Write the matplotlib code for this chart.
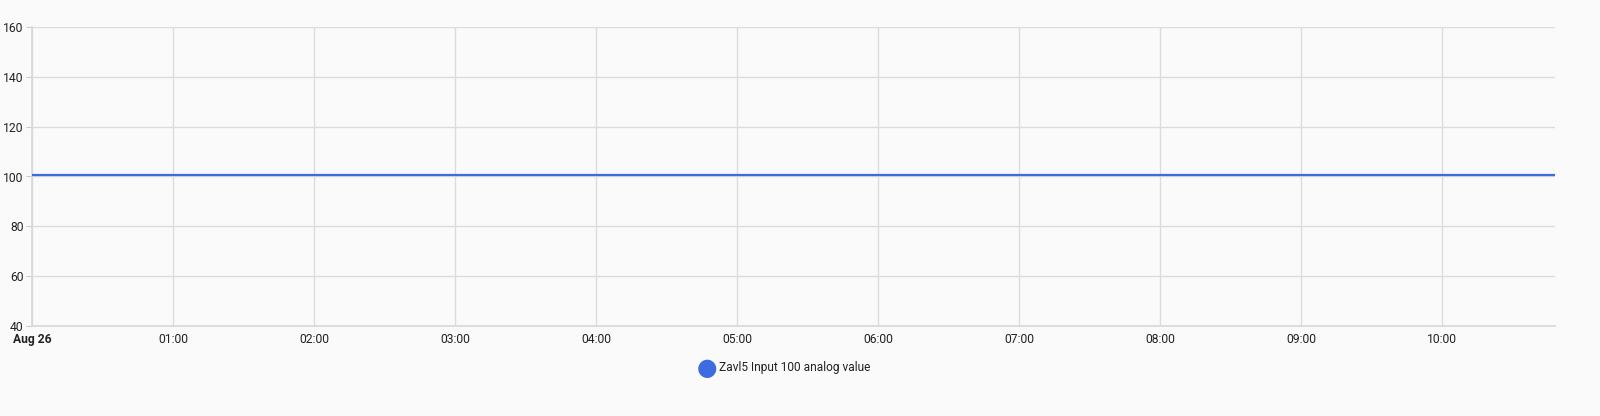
import matplotlib.pyplot as plt
import matplotlib.dates as mdates
import pandas as pd

plt.rcParams['font.family'] = ['Roboto', 'DejaVu Sans']

# Readings (constant signal over the morning)
times = pd.date_range("2023-08-26 00:00", "2023-08-26 10:48", freq="12min")
values = [100.6] * len(times)
series_name = "Zavl5 Input 100 analog value"

bg = "#fafafa"
fig = plt.figure(figsize=(16, 4.16), dpi=100, facecolor=bg)
ax = fig.add_axes([32 / 1600, 1 - 326 / 416, (1555 - 32) / 1600, (326 - 27) / 416])
ax.set_facecolor(bg)

ax.plot(times, values, color="#3d6be0", linewidth=1.6, zorder=3)

ax.set_ylim(40, 160)
ax.set_yticks(range(40, 161, 20))
ax.set_xlim(times[0], times[-1])

ax.xaxis.set_major_locator(mdates.HourLocator())
ax.xaxis.set_major_formatter(mdates.DateFormatter("%H:%M"))
fig.canvas.draw()
labels = [t.get_text() for t in ax.get_xticklabels()]
labels[0] = "Aug 26"
ax.set_xticks(ax.get_xticks())
ax.set_xticklabels(labels)
ax.get_xticklabels()[0].set_fontweight("bold")

ax.grid(True, color="#dcdcdc", linewidth=1)
ax.set_axisbelow(True)
for side in ["top", "right"]:
    ax.spines[side].set_visible(False)
ax.spines["left"].set_color("#d8d8d8")
ax.spines["bottom"].set_color("#d8d8d8")
ax.spines["left"].set_linewidth(1.2)
ax.spines["bottom"].set_linewidth(1.2)
ax.tick_params(axis="y", length=4, color="#cccccc", labelsize=8.7, labelcolor="#222222", pad=2)
ax.tick_params(axis="x", length=0, labelsize=8.7, labelcolor="#222222", pad=5)

# legend
fig.text(707 / 1600, 1 - 368 / 416, "\u25cf", color="#3d6be0", fontsize=17,
         ha="center", va="center", family="DejaVu Sans")
fig.text(719 / 1600, 1 - 368 / 416, series_name, fontsize=8.6, color="#222222",
         ha="left", va="center")

plt.savefig("out.png", dpi=100, facecolor=bg)
